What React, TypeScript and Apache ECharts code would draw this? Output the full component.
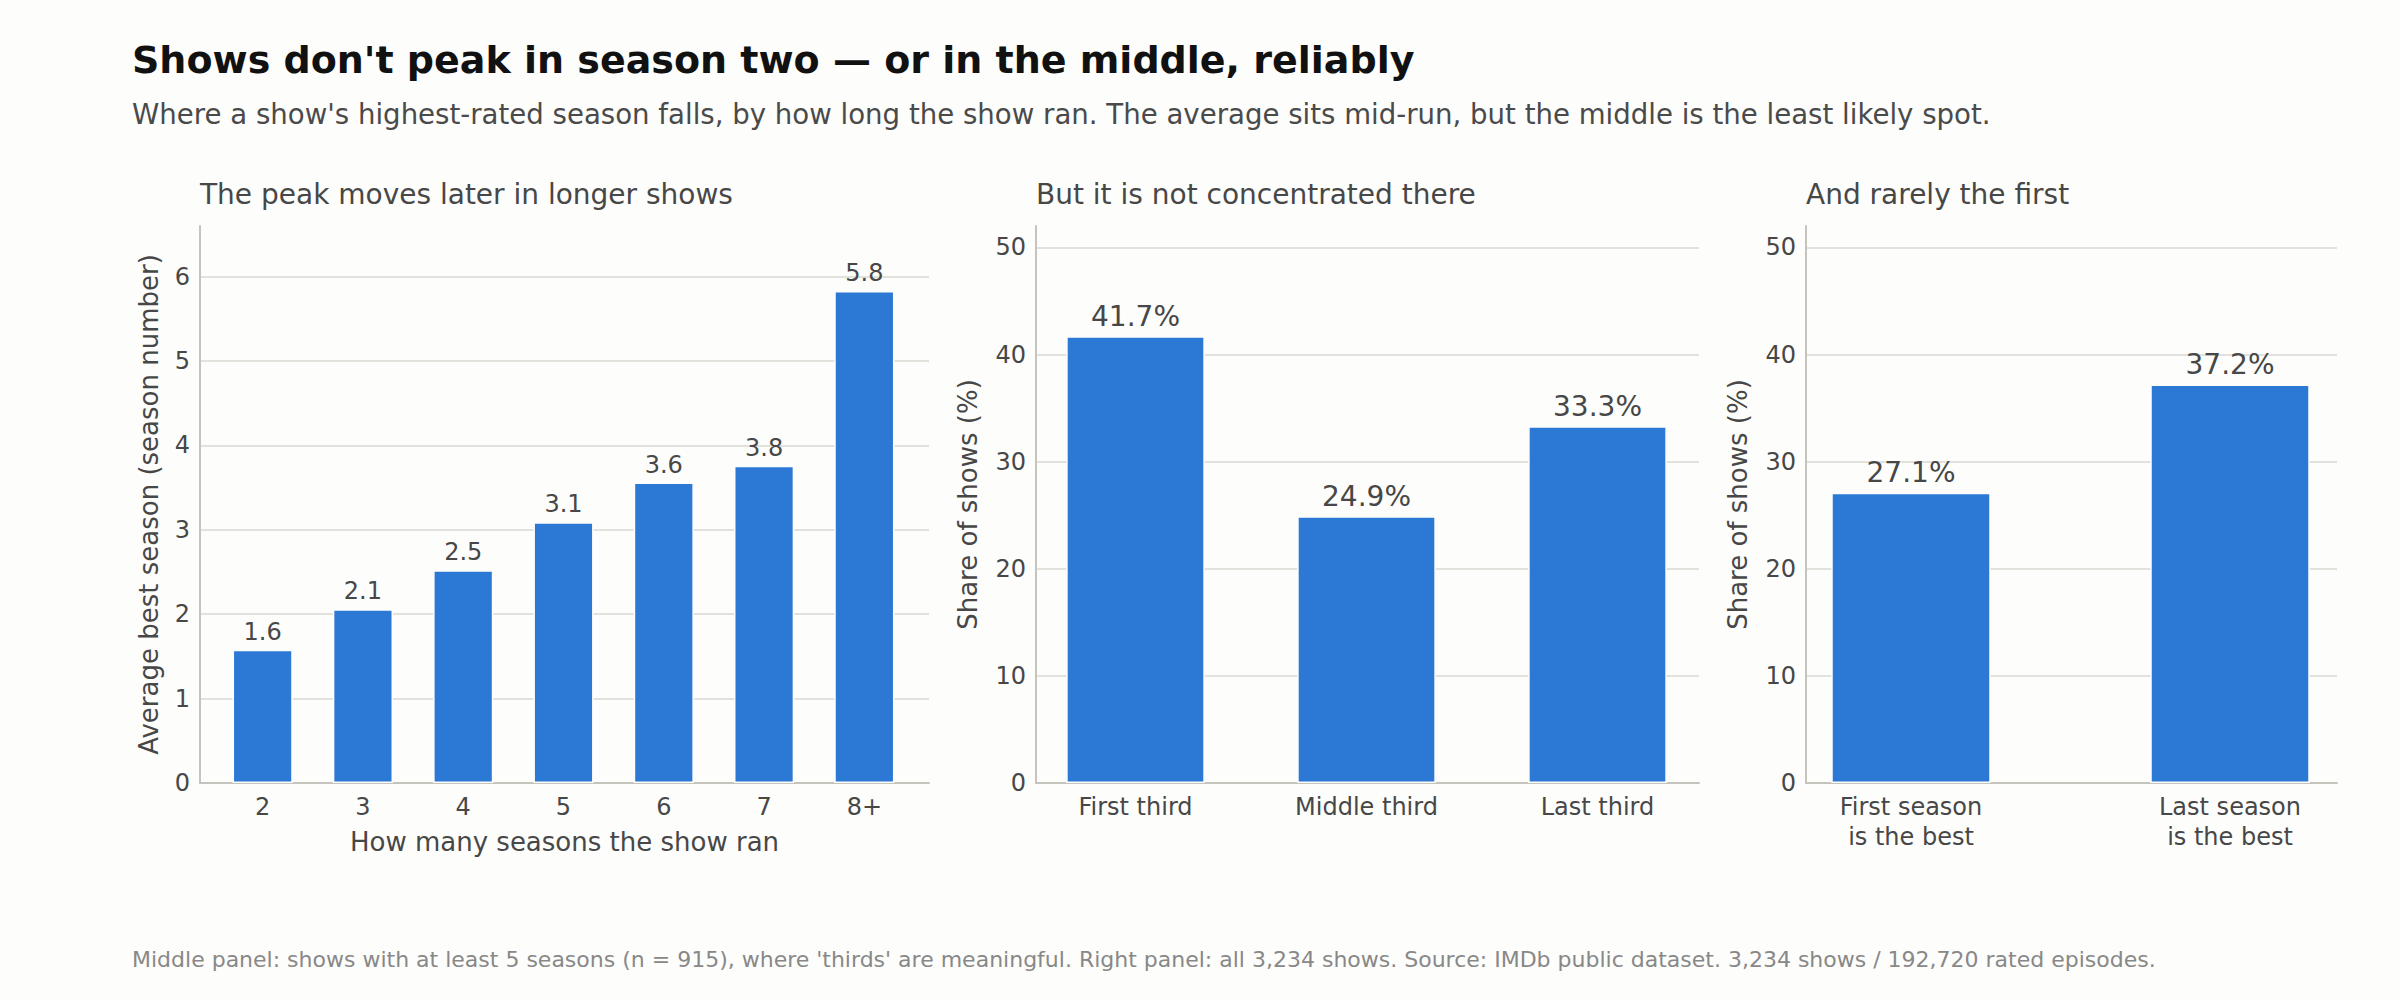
import React, { useEffect, useRef } from "react";
import * as echarts from "echarts";

const leftCats = ["2", "3", "4", "5", "6", "7", "8+"];
const leftVals = [1.58, 2.06, 2.52, 3.09, 3.56, 3.76, 5.83];
const midCats = ["First third", "Middle third", "Last third"];
const midVals = [41.7, 24.9, 33.3];
const rightCats = ["First season\nis the best", "Last season\nis the best"];
const rightVals = [27.1, 37.2];

const TITLE = "Shows don't peak in season two \u2014 or in the middle, reliably";
const SUBTITLE =
  "Where a show's highest-rated season falls, by how long the show ran. The average sits mid-run, but the middle is the least likely spot.";
const PANEL_TITLES = [
  "The peak moves later in longer shows",
  "But it is not concentrated there",
  "And rarely the first",
];
const Y_NAMES = ["Average best season (season number)", "Share of shows (%)", "Share of shows (%)"];
const X_NAME = "How many seasons the show ran";
const FOOTER =
  "Middle panel: shows with at least 5 seasons (n = 915), where 'thirds' are meaningful. Right panel: all 3,234 shows. Source: IMDb public dataset. 3,234 shows / 192,720 rated episodes.";

const FONT = '"DejaVu Sans", sans-serif';
const BAR = "#2b78d5";
const BG = "#fdfdfb";
const TXT = "#474747";
const AXIS = "#c4c4bc";
const GRIDC = "#e2e2dc";

export default function App() {
  const ref = useRef<HTMLDivElement>(null);
  useEffect(() => {
    if (!ref.current) return;
    const chart = echarts.init(ref.current, null, { renderer: "svg" });
    const top = 226;
    const height = 557;
    const outer = [
      { left: 200, width: 729 },
      { left: 1036, width: 663 },
      { left: 1806, width: 531 },
    ];
    const inner = [
      { left: 212.5, width: 702 },
      { left: 1020, width: 693 },
      { left: 1751.5, width: 638 },
    ];
    const maxes = [6.6, 52, 52];
    const intervals = [1, 10, 10];
    const cats = [leftCats, midCats, rightCats];
    const vals = [leftVals, midVals, rightVals];
    const widths = ["60%", "60%", "50%"];
    const labelSizes = [24, 28, 28];
    const suffix = ["", "%", "%"];

    const grid: any[] = [];
    const xAxis: any[] = [];
    const yAxis: any[] = [];
    outer.forEach((g, i) => {
      grid.push({ left: g.left, width: g.width, top, height });
      xAxis.push({
        type: "value",
        gridIndex: i,
        min: 0,
        max: 1,
        axisLine: { show: true, onZero: false, lineStyle: { color: AXIS, width: 2 } },
        axisTick: { show: false },
        axisLabel: { show: false },
        splitLine: { show: false },
      });
      yAxis.push({
        type: "value",
        gridIndex: i,
        min: 0,
        max: maxes[i],
        interval: intervals[i],
        axisLine: { show: true, lineStyle: { color: AXIS, width: 2 } },
        axisTick: { show: false },
        axisLabel: {
          color: TXT,
          fontSize: 24,
          fontFamily: FONT,
          margin: 10,
          showMaxLabel: false,
          formatter: (v: number) => (Math.abs(v - Math.round(v)) < 1e-9 ? String(v) : ""),
        },
        splitLine: { show: true, showMinLine: false, showMaxLine: false, lineStyle: { color: GRIDC, width: 2 } },
      });
    });
    inner.forEach((g, i) => {
      grid.push({ left: g.left, width: g.width, top, height });
      xAxis.push({
        type: "category",
        gridIndex: 3 + i,
        data: cats[i],
        axisLine: { show: false },
        axisTick: { show: false },
        axisLabel: { color: TXT, fontSize: 24, fontFamily: FONT, margin: 9, lineHeight: 30, interval: 0 },
        splitLine: { show: false },
      });
      yAxis.push({ type: "value", gridIndex: 3 + i, min: 0, max: maxes[i], show: false });
    });

    const series = vals.map((v, i) => ({
      type: "bar",
      xAxisIndex: 3 + i,
      yAxisIndex: 3 + i,
      data: v,
      barWidth: widths[i],
      z: 5,
      itemStyle: { color: BAR, borderColor: BG, borderWidth: 1.5 },
      label: {
        show: true,
        position: "top",
        distance: 6,
        color: TXT,
        fontSize: labelSizes[i],
        fontFamily: FONT,
        formatter: (p: any) => Number(p.value).toFixed(1) + suffix[i],
      },
    }));

    const titles: any[] = [
      { text: TITLE, left: 132, top: 41, padding: 0, textStyle: { fontSize: 38, fontWeight: "bold", color: "#111111", fontFamily: FONT } },
      { text: SUBTITLE, left: 132, top: 100, padding: 0, textStyle: { fontSize: 27.6, fontWeight: "normal", color: "#4a4a4a", fontFamily: FONT } },
      { text: FOOTER, left: 132, top: 948, padding: 0, textStyle: { fontSize: 22, fontWeight: "normal", color: "#888888", fontFamily: FONT } },
    ];
    PANEL_TITLES.forEach((t, i) => {
      titles.push({ text: t, left: outer[i].left, top: 180, padding: 0, textStyle: { fontSize: 28, fontWeight: "normal", color: TXT, fontFamily: FONT } });
    });

    const yNameX = [149, 968, 1738];
    const graphic: any[] = Y_NAMES.map((t, i) => ({
      type: "text",
      x: yNameX[i],
      y: top + height / 2,
      rotation: Math.PI / 2,
      style: { text: t, fill: TXT, font: `26px ${FONT}`, align: "center", verticalAlign: "middle" },
    }));
    graphic.push({
      type: "text",
      x: outer[0].left + outer[0].width / 2,
      y: 842,
      style: { text: X_NAME, fill: TXT, font: `26px ${FONT}`, align: "center", verticalAlign: "middle" },
    });

    chart.setOption({
      animation: false,
      backgroundColor: BG,
      title: titles,
      grid,
      xAxis,
      yAxis,
      series,
      graphic,
    });
    return () => chart.dispose();
  }, []);
  return <div ref={ref} style={{ position: "fixed", left: 0, top: 0, width: 2400, height: 1000 }} />;
}
